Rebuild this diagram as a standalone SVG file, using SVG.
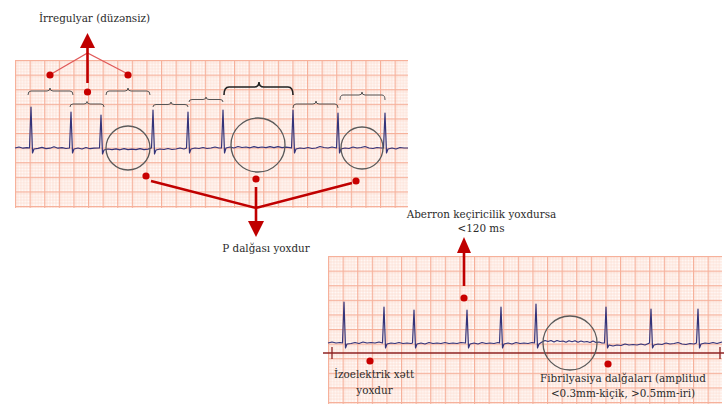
<svg xmlns="http://www.w3.org/2000/svg" width="726" height="417" viewBox="0 0 726 417">
<defs>
<pattern id="gridTop" patternUnits="userSpaceOnUse" x="15" y="60" width="14.6" height="14.6">
<rect width="14.6" height="14.6" fill="#fffaf8"/>
<path d="M2.92 0V14.6M5.84 0V14.6M8.76 0V14.6M11.68 0V14.6M0 2.92H14.6M0 5.84H14.6M0 8.76H14.6M0 11.68H14.6" stroke="#fcd9cd" stroke-width="0.7"/>
<path d="M0.6 0V14.6M0 0.6H14.6" stroke="#f6b09a" stroke-width="1.2"/>
</pattern>
<pattern id="gridBot" patternUnits="userSpaceOnUse" x="328" y="256" width="14.6" height="14.6">
<rect width="14.6" height="14.6" fill="#fffaf8"/>
<path d="M2.92 0V14.6M5.84 0V14.6M8.76 0V14.6M11.68 0V14.6M0 2.92H14.6M0 5.84H14.6M0 8.76H14.6M0 11.68H14.6" stroke="#fcd9cd" stroke-width="0.7"/>
<path d="M0.6 0V14.6M0 0.6H14.6" stroke="#f6b09a" stroke-width="1.2"/>
</pattern>
</defs>
<style>
.trace{fill:none;stroke:#34347a;stroke-width:1.2;stroke-linejoin:round}
.brace{fill:none;stroke:#555;stroke-width:1}
.bold{stroke:#222;stroke-width:1.6}
.ring{fill:none;stroke:#5a5a5a;stroke-width:1.3}
.dot{fill:#c80000}
.thick{fill:none;stroke:#c00000;stroke-width:2.6}
.thin{fill:none;stroke:#e05a5a;stroke-width:1.3}
.head{fill:#c00000}
.lbl{font-family:"DejaVu Serif","Liberation Serif",serif;font-size:10.4px;fill:#2b2b2b;text-anchor:middle}
</style>

<g id="ecg-top">
<rect x="15" y="60" width="393" height="148" fill="url(#gridTop)"/>
<path class="trace" d="M15 148 l4 -1 l4 1.2 l4 -0.6 L29.5 148 L31 107 L32.5 153 L34 149 l4 -0.6 l4 -1 l4 1.2 l4 -0.4 l4 -1.5 l4 1.5 l4 -0.5 l4 0.8 L69.5 148 L71 112 L72.5 153 L74 149 l4 -1 l4 1 l4 -1.5 l4 1.2 l4 -0.6 L99.5 148 L101 115 L102.5 154 L104 150 l4 -1 l4 0.6 l4 -0.8 l4 1 l4 -1.2 l4 1 l4 -0.5 l4 0.5 l4 -1 l4 1 l4 -0.5 L151.5 148 L153 110 L154.5 154 L156 150 l4 -1 l4 0.5 l4 -1 l4 1 l4 -0.5 l4 -1 l4 1 L186.5 148 L188 112 L189.5 153 L191 149 l4 -1 l4 0.5 l4 -1 l4 1 l4 -0.5 l4 -1 l4 1 L221.5 148 L223 110 L224.5 153 L226 148 l4 -1 l4 1 l4 -1.5 l4 1 l4 -0.5 l4 0.8 l4 -1.2 l4 1 l4 -0.6 l4 0.6 l4 -1 l4 1 l4 -1 l4 1 l4 -0.5 l4 0.5 L291.5 148 L293 110 L294.5 153 L296 149 l4 -1 l4 0.5 l4 -1 l4 1 l4 -0.5 l4 -1.5 l4 1 l4 0.5 l4 -1 L336.5 148 L338 113 L339.5 153 L341 149 l4 -1 l4 0.5 l4 -1.5 l4 1 l4 -0.5 l4 -1 l4 1.5 l4 0.5 l4 -1 l4 0.5 L383.5 148 L385 113 L386.5 153 L388 149 l4 -1 l4 1 l4 -1.5 l4 0.5 L408 148"/>
</g>

<g id="braces">
<path class="brace" d="M28 95 Q28 91 31 91 L47 91 Q50 91 50 88 Q50 91 53 91 L70 91 Q73 91 73 95"/>
<path class="brace" d="M70 107 Q70 104 73 104 L84 104 Q87 104 87 101.5 Q87 104 90 104 L101 104 Q104 104 104 107"/>
<path class="brace" d="M106 95 Q106 91 109 91 L125 91 Q128 91 128 88 Q128 91 131 91 L147 91 Q150 91 150 95"/>
<path class="brace" d="M153 107 Q153 104.5 156 104.5 L168 104.5 Q171 104.5 171 102 Q171 104.5 174 104.5 L185 104.5 Q188 104.5 188 107"/>
<path class="brace" d="M189 102 Q189 99.5 192 99.5 L203 99.5 Q206 99.5 206 97 Q206 99.5 209 99.5 L220 99.5 Q223 99.5 223 102"/>
<path class="brace bold" d="M224 95 Q224 87 229 87 L254 87 Q259 87 259 82 Q259 87 264 87 L288 87 Q293 87 293 95"/>
<path class="brace" d="M293 108 Q293 104 296 104 L313 104 Q316 104 316 101 Q316 104 319 104 L335 104 Q338 104 338 108"/>
<path class="brace" d="M340 100 Q340 95 343 95 L359 95 Q362 95 362 92 Q362 95 365 95 L382 95 Q385 95 385 100"/>
</g>

<g id="rings-top">
<circle class="ring" cx="128" cy="148" r="22"/>
<circle class="ring" cx="258" cy="145" r="27"/>
<circle class="ring" cx="362" cy="148" r="21"/>
</g>

<g id="ecg-bottom">
<rect x="328" y="256" width="394" height="148" fill="url(#gridBot)"/>
<path d="M323 353 H724" fill="none" stroke="#8e2323" stroke-width="1.3"/>
<path d="M332 347 V359 M720 347 V359" fill="none" stroke="#8e2323" stroke-width="1.3"/>
<path class="trace" d="M328 343 l4 -1 l4 1 l4 -0.5 L342.5 343 L344 302 L345.5 348 L347 344 l4 -0.5 l4 -1 l4 1 l4 -1.5 l4 1 l4 -0.5 l4 0.5 l4 -1 L382.5 343 L384 307 L385.5 348 L387 344 l4 -1 l4 0.5 l4 -1 l4 1 l4 -0.5 l4 0.5 L412.5 343 L414 310 L415.5 348 L417 344 l4 -1 l4 1 l4 -1.5 l4 1 l4 -0.5 l4 0.5 l4 -1 l4 1 l4 -0.5 l4 0.5 l4 -1 L465.5 343 L467 310 L468.5 348 L470 344 l4 -1 l4 1 l4 -1.5 l4 1 l4 -0.5 l4 0.5 l4 -1 L499.5 343 L501 307 L502.5 348 L504 344 l4 -1 l4 1 l4 -1.5 l4 1 l4 -0.5 l4 0.5 l4 -1 L534.5 343 L536 304 L537.5 348 L539 344 l3 -2 l3 -1.5 l3 1 l3 -1 l3 1.5 l3 -1.5 l3 1 l3 -0.5 l3 1.2 l3 -1.5 l3 1 l3 -1 l3 1.5 l3 -1.2 l3 1 l3 -0.5 l3 1 l3 -1.5 l3 1.5 l3 -0.5 l3 1 L604.5 343 L606 307 L607.5 348 L609 345 l4 1 l4 -1 l4 0.5 l4 -1.5 l4 1 l4 -0.5 l4 0.5 l4 -1 l4 1 L649.5 343 L651 309 L652.5 348 L654 345 l4 -1 l4 0.5 l4 -1.5 l4 1 l4 -0.5 l4 -1 l4 1.5 l4 0.5 l4 -1 l4 0.5 L696.5 343 L698 309 L699.5 348 L701 344 l4 -1 l4 0.5 l4 -1 l4 1 L722 342"/>
<circle class="ring" cx="570" cy="343" r="27"/>
</g>

<g id="connectors">
<path class="thin" d="M53 73 L87.5 53 L126 73"/>
<path class="thick" d="M87.5 83 V47"/>
<polygon class="head" points="80,48 95,48 87.5,33"/>
<path class="thick" d="M151 181 L256 208 L352 183 M256 187 V222"/>
<polygon class="head" points="248,221 264,221 256,237"/>
<path class="thick" d="M464 286 V252"/>
<polygon class="head" points="457,253 471,253 464,237"/>
</g>

<g id="dots">
<circle class="dot" cx="50" cy="75" r="3.6"/>
<circle class="dot" cx="87.5" cy="92" r="3.6"/>
<circle class="dot" cx="128" cy="75" r="3.6"/>
<circle class="dot" cx="146" cy="176" r="3.6"/>
<circle class="dot" cx="256" cy="179" r="3.6"/>
<circle class="dot" cx="356" cy="181" r="3.6"/>
<circle class="dot" cx="464" cy="298" r="3.6"/>
<circle class="dot" cx="370" cy="361" r="3.6"/>
<circle class="dot" cx="608" cy="364" r="3.6"/>
</g>

<g id="label-irregular"><text class="lbl" x="94.5" y="22">İrregulyar (düzənsiz)</text></g>
<g id="label-p"><text class="lbl" x="266" y="252">P dalğası yoxdur</text></g>
<g id="label-aberron"><text class="lbl" x="481.5" y="218">Aberron keçiricilik yoxdursa</text><text class="lbl" x="481" y="232">&lt;120 ms</text></g>
<g id="label-izo"><text class="lbl" x="374" y="378">İzoelektrik xətt</text><text class="lbl" x="374.5" y="394">yoxdur</text></g>
<g id="label-fib"><text class="lbl" x="623" y="382">Fibrilyasiya dalğaları (amplitud</text><text class="lbl" x="623" y="397">&lt;0.3mm-kiçik, &gt;0.5mm-iri)</text></g>
</svg>
